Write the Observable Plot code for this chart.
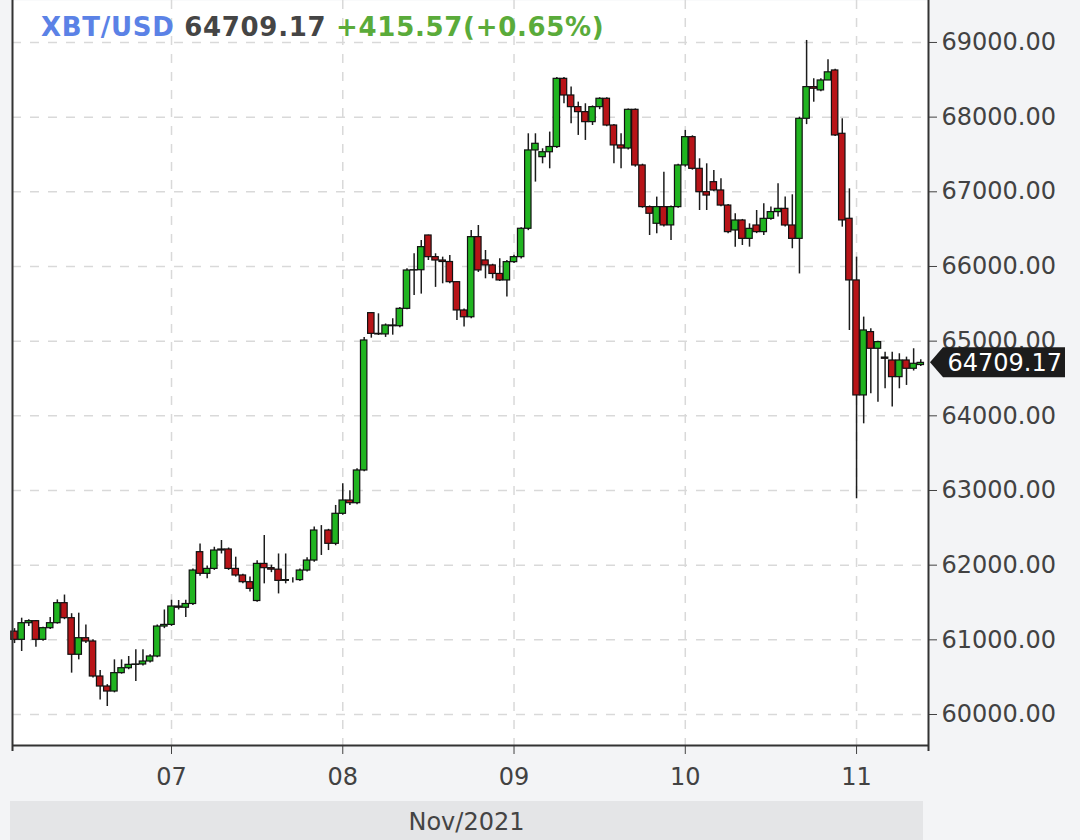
<!DOCTYPE html>
<html><head><meta charset="utf-8">
<script src="https://cdn.jsdelivr.net/npm/d3@7"></script>
<script src="https://cdn.jsdelivr.net/npm/@observablehq/plot@0.6"></script>
<style>
html,body{margin:0;padding:0;background:#f3f4f6;width:1080px;height:840px;overflow:hidden;font-family:"DejaVu Sans",sans-serif}
#wrap{position:relative;width:1080px;height:840px}
#chart svg{display:block}
#title{position:absolute;left:41px;top:11px;font-weight:bold;font-size:26px;line-height:32px;white-space:nowrap;letter-spacing:0.7px}
#band{position:absolute;left:10px;top:801px;width:913px;height:39px;background:#e4e5e7;color:#444;font-size:24px;line-height:42px;text-align:center}
</style></head><body>
<div id="wrap"><div id="chart"></div>
<div id="title"><span style="color:#5b82e6">XBT/USD</span> <span style="color:#454545">64709.17</span> <span style="color:#5aab3a">+415.57(+0.65%)</span></div>
<div id="band">Nov/2021</div></div>
<script>
// hourly candles starting 2021-11-06 02:00 UTC
const startHour = "2021-11-06T02:00:00Z";
const opens = [61110,61000,61223,61250,61000,61156,61223,61491,61290,60800,61022,60978,60509,60375,60308,60554,60620,60665,60670,60710,60777,61178,
61200,61446,61430,61480,62174,61884,61950,62196,62210,61950,61862,61772,61520,62017,61960,61940,61790,61800,61800,61928,62062,62464,62464,62286,
62688,62866,62830,63268,65375,65098,65090,65210,65200,65433,65946,65950,66415,66125,66080,66060,65790,65411,65320,66393,66081,66014,65900,65813,
66058,66125,66505,67554,67464,67530,67600,68513,68290,68134,68067,67933,68134,68246,67888,67621,67580,68098,67353,66795,66572,66795,66550,66795,
67353,67732,67308,66995,67129,67018,66816,66482,66616,66370,66549,66460,66638,66728,66772,66549,66370,67978,68402,68358,68491,68625,67777,66639,
65813,64273,65121,64898,64780,64741,64518,64741,64630,64680];
const highs = [61150,61290,61270,61260,61170,61300,61535,61600,61350,61357,61200,61000,60590,60400,60732,60732,60777,60866,60866,60800,61200,61400,
61530,61527,61530,61950,62285,61990,62240,62330,62230,62107,61880,61840,62060,62397,62000,62150,62150,61830,61950,62100,62510,62530,62480,62800,
63089,62996,63290,65050,65380,65366,65230,65300,65450,65970,66170,66348,66420,66170,66125,66148,65800,65430,66482,66549,66214,66030,66103,66080,
66150,66520,67777,67777,67576,67800,68530,68530,68402,68201,68179,68150,68260,68260,67900,67777,68110,68110,67370,66810,66929,67263,66810,67370,
67822,67750,67442,67375,67285,67174,66830,66705,66630,66571,66750,66839,66795,67107,66929,66960,68000,69027,68514,68514,68768,68640,67978,67040,
66125,65322,65166,65000,64853,64853,64831,64786,64898,64750];
const lows = [60950,60844,61180,60900,60980,61140,61210,61270,60554,60732,60950,60490,60196,60107,60290,60540,60600,60442,60650,60690,60760,61150,
61180,61400,61300,61460,61850,61817,61930,62150,61930,61840,61750,61640,61504,61750,61900,61615,61750,61760,61780,61910,62040,62130,62196,62260,
62670,62800,62810,63250,65040,65076,65050,65080,65180,65420,65612,65630,66080,65720,65768,65770,65277,65188,65300,65920,65835,65835,65800,65590,
66040,66100,66480,67130,67375,67308,67580,68179,67910,67755,67688,67888,68100,67870,67375,67308,67560,67330,66780,66415,66438,66530,66348,66780,
67330,67290,66750,66750,67000,66800,66440,66259,66281,66259,66440,66415,66620,66661,66530,66237,65900,67900,68200,68340,68491,67740,66527,65143,
62889,63893,64295,64183,64362,64117,64362,64407,64600,64660];
const closes = [61000,61223,61250,61000,61156,61223,61491,61290,60800,61022,60978,60509,60375,60308,60554,60620,60665,60670,60710,60777,61178,61200,
61446,61430,61480,61928,61884,61950,62196,62210,61950,61862,61772,61683,62017,61960,61940,61790,61800,61800,61928,62062,62464,62464,62286,62688,
62866,62830,63268,65009,65098,65090,65210,65200,65433,65946,65950,66259,66125,66080,66060,65790,65411,65320,66393,65947,66014,65900,65813,66058,
66125,66505,67554,67643,67530,67600,68513,68290,68134,68067,67933,68134,68246,67888,67621,67580,68098,67353,66795,66706,66795,66550,66795,67353,
67732,67308,66995,66950,67018,66816,66460,66616,66370,66504,66460,66638,66728,66772,66549,66370,67978,68402,68380,68491,68600,67755,66617,65813,
64273,65143,64898,64987,64764,64518,64741,64630,64697,64709.17];
const yTicks = [60000,61000,62000,63000,64000,65000,66000,67000,68000,69000];
const dayTicks = ["2021-11-07","2021-11-08","2021-11-09","2021-11-10","2021-11-11"].map(s => new Date(s + "T00:00:00Z"));
const lastPrice = 64709.17;

const t0 = new Date(startHour).getTime();
const candles = closes.map((c, i) => {
  const t = t0 + i * 3600e3;
  return {t: new Date(t), t1: new Date(t - 27 * 60e3), t2: new Date(t + 27 * 60e3), o: opens[i], h: highs[i], l: lows[i], c};
});
const xDomain = [new Date("2021-11-06T01:43:00Z"), new Date("2021-11-11T10:05:00Z")];
const yDomain = [59585, 69562];
const GREEN = "#20b420", RED = "#b81418";

const chart = Plot.plot({
  width: 1080, height: 800,
  marginLeft: 12, marginRight: 152, marginTop: 0, marginBottom: 55,
  style: {background: "transparent", fontFamily: "DejaVu Sans, sans-serif", fontSize: "24px", color: "#424242", overflow: "visible"},
  x: {type: "utc", domain: xDomain},
  y: {domain: yDomain},
  marks: [
    Plot.frame({fill: "white", stroke: null}),
    Plot.gridY(yTicks, {stroke: "#d9d9d9", strokeOpacity: 1, strokeWidth: 1.5, strokeDasharray: "9,9"}),
    Plot.gridX(dayTicks, {stroke: "#d9d9d9", strokeOpacity: 1, strokeWidth: 1.5, strokeDasharray: "9,9"}),
    Plot.ruleX(candles, {x: "t", y1: "l", y2: "h", stroke: "#1c1c1c", strokeWidth: 1.5}),
    Plot.rect(candles.filter(d => d.c >= d.o), {x1: "t1", x2: "t2", y1: "o", y2: "c", fill: GREEN, stroke: "#111", strokeWidth: 1.2}),
    Plot.rect(candles.filter(d => d.c < d.o), {x1: "t1", x2: "t2", y1: "o", y2: "c", fill: RED, stroke: "#111", strokeWidth: 1.2}),
    Plot.axisY(yTicks, {anchor: "right", tickSize: 8, tickPadding: 5, tickFormat: d => d.toFixed(2), fontSize: 24}),
    Plot.axisX(dayTicks, {anchor: "bottom", tickSize: 9, tickPadding: 13, tickFormat: d3.utcFormat("%d"), fontSize: 24}),
    Plot.ruleX(xDomain, {stroke: "#333", strokeWidth: 2, insetBottom: -6}),
    Plot.ruleY([yDomain[0]], {stroke: "#333", strokeWidth: 2})
  ]
});
document.getElementById("chart").append(chart);

// current price tag on the right axis
const yy = chart.scale("y").apply(lastPrice);
const xr = chart.scale("x").apply(xDomain[1]);
const g = d3.select(chart).append("g");
g.append("path")
  .attr("d", `M${xr + 2},${yy} L${xr + 15},${yy - 15} L${xr + 137},${yy - 15} L${xr + 137},${yy + 15} L${xr + 15},${yy + 15} Z`)
  .attr("fill", "#1c1c1c");
g.append("text")
  .attr("x", xr + 134).attr("y", yy).attr("dy", "0.36em")
  .attr("text-anchor", "end").attr("fill", "white")
  .attr("font-size", 24).attr("font-family", "DejaVu Sans, sans-serif")
  .text(lastPrice.toFixed(2));
</script>
</body></html>
